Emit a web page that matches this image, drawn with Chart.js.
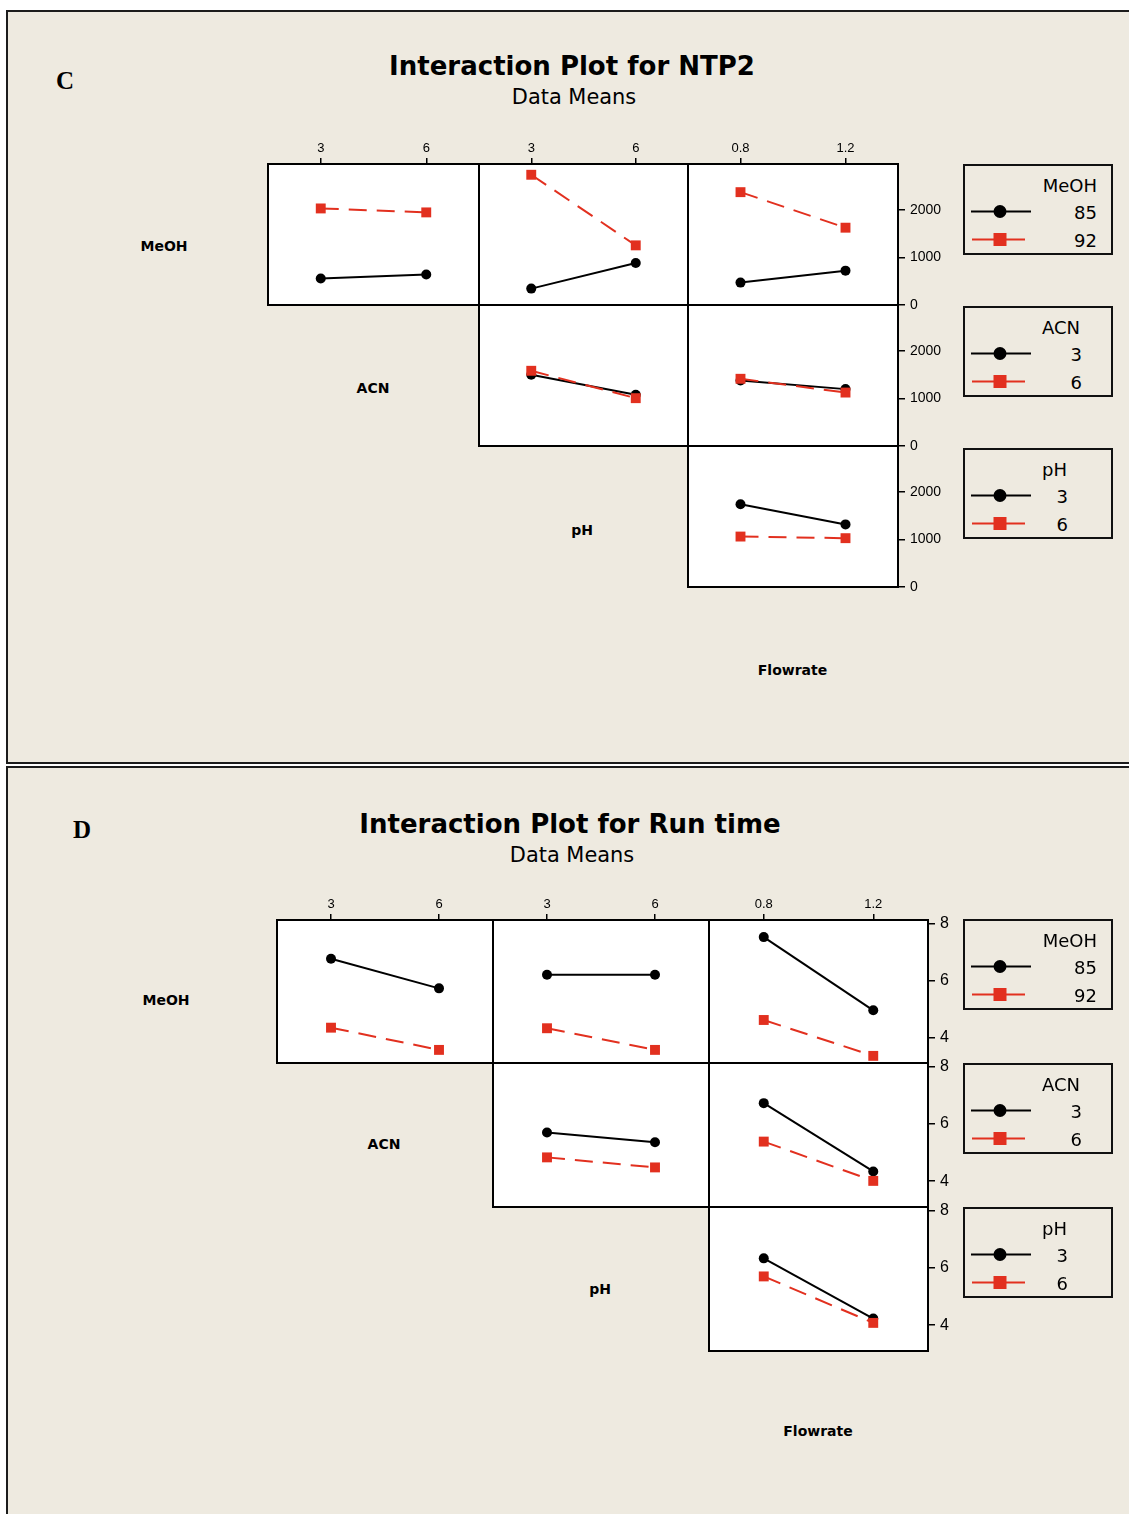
<!DOCTYPE html>
<html>
<head>
<meta charset="utf-8">
<script src="https://cdn.jsdelivr.net/npm/chart.js@4.4.1/dist/chart.umd.min.js"></script>
<style>
html,body{margin:0;padding:0;background:#fff;}
body{width:1129px;height:1514px;overflow:hidden;position:relative;}
.panel{position:absolute;left:6px;width:1140px;background:#EEEAE0;border:2px solid #1c1c1c;box-sizing:border-box;}
.t{position:absolute;white-space:nowrap;line-height:1;color:#000;}
.c{transform:translate(-50%,-50%);}
.r{transform:translate(-100%,-50%);}
.title{font-family:"DejaVu Sans";font-weight:bold;font-size:26px;}
.sub{font-family:"DejaVu Sans";font-size:22px;transform:translate(-50%,-50%) scaleX(0.95);}
.lab{font-family:"DejaVu Sans";font-weight:bold;font-size:14px;}
.letter{font-family:"Liberation Serif";font-weight:bold;font-size:25px;}
.lg{position:absolute;width:150px;height:91px;border:2px solid #111;box-sizing:border-box;}
.lgt{font-family:"DejaVu Sans";font-size:18px;}
canvas{position:absolute;}
</style>
</head>
<body>
<div class="panel" style="top:10px;height:754px;"></div>
<div class="panel" style="top:766px;height:800px;"></div>
<div id="root"></div>
<script>
// ---------- factor levels / ticks ----------
const meohLevels = [85, 92];
const acnLevels = [3, 6];
const phLevels = [3, 6];
const flowLevels = [0.8, 1.2];
const acnTickLabels = ['3', '6'];
const phTickLabels = ['3', '6'];
const flowTickLabels = ['0.8', '1.2'];
const ntp2YTicks = [0, 1000, 2000];
const ntp2YTickLabels = ['0', '1000', '2000'];
const runYTicks = [4, 6, 8];
const runYTickLabels = ['4', '6', '8'];

// ---------- NTP2 means (panel C) ----------
const ntp2MeOH85_acn = [556, 640];
const ntp2MeOH92_acn = [2027, 1944];
const ntp2MeOH85_ph = [344, 880];
const ntp2MeOH92_ph = [2734, 1252];
const ntp2MeOH85_flow = [470, 721];
const ntp2MeOH92_flow = [2369, 1623];
const ntp2ACN3_ph = [1495, 1074];
const ntp2ACN6_ph = [1579, 1004];
const ntp2ACN3_flow = [1375, 1194];
const ntp2ACN6_flow = [1411, 1122];
const ntp2PH3_flow = [1737, 1314];
const ntp2PH6_flow = [1059, 1025];

// ---------- Run time means (panel D) ----------
const runMeOH85_acn = [6.76, 5.72];
const runMeOH92_acn = [4.34, 3.56];
const runMeOH85_ph = [6.20, 6.20];
const runMeOH92_ph = [4.32, 3.56];
const runMeOH85_flow = [7.52, 4.95];
const runMeOH92_flow = [4.61, 3.35];
const runACN3_ph = [5.70, 5.36];
const runACN6_ph = [4.83, 4.48];
const runACN3_flow = [6.72, 4.34];
const runACN6_flow = [5.38, 4.01];
const runPH3_flow = [6.33, 4.23];
const runPH6_flow = [5.70, 4.08];

const RED = '#E2301F';
const root = document.getElementById('root');

function text(str, x, y, cls, align) {
  const d = document.createElement('div');
  d.className = 't ' + cls + ' ' + (align || 'c');
  d.style.left = x + 'px';
  d.style.top = y + 'px';
  d.textContent = str;
  root.appendChild(d);
  return d;
}

function legend(left, top, title, levels, titleRight, valRight) {
  const box = document.createElement('div');
  box.className = 'lg';
  box.style.left = left + 'px';
  box.style.top = top + 'px';
  root.appendChild(box);
  const ns = 'http://www.w3.org/2000/svg';
  const svg = document.createElementNS(ns, 'svg');
  svg.setAttribute('width', 150); svg.setAttribute('height', 91);
  svg.style.position = 'absolute'; svg.style.left = left + 'px'; svg.style.top = top + 'px';
  svg.innerHTML =
    '<line x1="8" y1="47.5" x2="68" y2="47.5" stroke="#000" stroke-width="2"/>' +
    '<circle cx="37" cy="47.5" r="6.5" fill="#000"/>' +
    '<line x1="9" y1="75.5" x2="62" y2="75.5" stroke="' + RED + '" stroke-width="2"/>' +
    '<rect x="30.5" y="69" width="13" height="13" fill="' + RED + '"/>';
  root.appendChild(svg);
  text(title, left + titleRight, top + 22, 'lgt', 'r');
  text(String(levels[0]), left + valRight, top + 48.5, 'lgt', 'r');
  text(String(levels[1]), left + valRight, top + 76.5, 'lgt', 'r');
}

// generous padding so Chart.js label padding never shifts the plot area
const PADL = 24, PADB = 24, TOPH = 30, RW = 52;

const cellBox = {
  id: 'cellBox',
  beforeDraw(c) {
    const a = c.chartArea, ctx = c.ctx;
    ctx.save();
    ctx.fillStyle = '#fff';
    ctx.fillRect(a.left, a.top, a.right - a.left, a.bottom - a.top);
    ctx.restore();
  },
  beforeDatasetsDraw(c) {
    const a = c.chartArea, ctx = c.ctx;
    ctx.save();
    ctx.strokeStyle = '#000';
    ctx.lineWidth = 2;
    ctx.strokeRect(a.left, a.top, a.right - a.left, a.bottom - a.top);
    ctx.restore();
  }
};

function cell(o) {
  const cv = document.createElement('canvas');
  const W = o.w + PADL + RW, H = o.h + TOPH + PADB;
  cv.width = W; cv.height = H;
  cv.style.width = W + 'px'; cv.style.height = H + 'px';
  cv.style.left = (o.x - PADL) + 'px';
  cv.style.top = (o.y - TOPH) + 'px';
  root.appendChild(cv);
  const pts = vals => o.xLevels.map((v, i) => ({ x: v, y: vals[i] }));
  new Chart(cv.getContext('2d'), {
    type: 'line',
    data: {
      datasets: [
        { data: pts(o.s1), order: 1, borderColor: '#000', borderWidth: 2,
          pointStyle: 'circle', pointRadius: 5, pointBackgroundColor: '#000',
          pointBorderColor: '#000', pointBorderWidth: 0, tension: 0, fill: false },
        { data: pts(o.s2), order: 0, borderColor: RED, borderWidth: 2, borderDash: [18, 10],
          pointStyle: 'rect', pointRadius: 7, pointBackgroundColor: RED,
          pointBorderColor: RED, pointBorderWidth: 0, tension: 0, fill: false }
      ]
    },
    options: {
      responsive: false, animation: false, events: [],
      layout: { padding: { left: PADL, right: 0, top: 0, bottom: PADB } },
      plugins: { legend: { display: false }, tooltip: { enabled: false } },
      scales: {
        x: {
          type: 'linear', position: 'top', min: o.xMin, max: o.xMax,
          afterBuildTicks: s => { s.ticks = o.xTicks.map(v => ({ value: v })); },
          afterFit: s => { s.height = TOPH; s.paddingLeft = 0; s.paddingRight = 0; },
          grid: { display: o.showX, drawOnChartArea: false, drawTicks: true, tickLength: 6, color: '#000', lineWidth: 1.5 },
          border: { display: false },
          ticks: { display: o.showX, padding: 2, color: '#000', maxRotation: 0, autoSkip: false,
                   font: { family: 'Liberation Sans', size: 13 },
                   callback: (v, i) => o.xLabels[i] }
        },
        y: {
          type: 'linear', position: 'right', min: o.yMin, max: o.yMax,
          afterBuildTicks: s => { s.ticks = o.yTicks.map(v => ({ value: v })); },
          afterFit: s => { s.width = RW; s.paddingTop = 0; s.paddingBottom = 0; },
          grid: { display: o.showY, drawOnChartArea: false, drawTicks: true, tickLength: 7, color: '#000', lineWidth: 1.5 },
          border: { display: false },
          ticks: { display: o.showY, padding: 5, color: '#000', autoSkip: false,
                   font: { family: 'Liberation Sans', size: o.yFont },
                   callback: (v, i) => o.yLabels[i] }
        }
      }
    },
    plugins: [cellBox]
  });
}

// ---------------- Panel C ----------------
text('C', 65, 80, 'letter');
text('Interaction Plot for NTP2', 572, 66, 'title');
text('Data Means', 574, 97, 'sub', ' ');
text('MeOH', 164, 245.5, 'lab');
text('ACN', 373, 387.5, 'lab');
text('pH', 582, 529.5, 'lab');
text('Flowrate', 792.5, 670, 'lab');

const cX = [268, 479, 688, 898];
const cY = [164, 305, 446, 587];
const xSpec = [
  { lv: acnLevels, min: 1.5, max: 7.5, lab: acnTickLabels },
  { lv: phLevels, min: 1.5, max: 7.5, lab: phTickLabels },
  { lv: flowLevels, min: 0.6, max: 1.4, lab: flowTickLabels }
];
const ntp2Series = [
  [[ntp2MeOH85_acn, ntp2MeOH92_acn], [ntp2MeOH85_ph, ntp2MeOH92_ph], [ntp2MeOH85_flow, ntp2MeOH92_flow]],
  [null, [ntp2ACN3_ph, ntp2ACN6_ph], [ntp2ACN3_flow, ntp2ACN6_flow]],
  [null, null, [ntp2PH3_flow, ntp2PH6_flow]]
];
const runSeries = [
  [[runMeOH85_acn, runMeOH92_acn], [runMeOH85_ph, runMeOH92_ph], [runMeOH85_flow, runMeOH92_flow]],
  [null, [runACN3_ph, runACN6_ph], [runACN3_flow, runACN6_flow]],
  [null, null, [runPH3_flow, runPH6_flow]]
];

function grid(X, Y, series, yMin, yMax, yTicks, yLabels, yFont) {
  for (let r = 0; r < 3; r++) {
    for (let c = r; c < 3; c++) {
      const sp = xSpec[c];
      cell({
        x: X[c], y: Y[r], w: X[c + 1] - X[c], h: Y[r + 1] - Y[r],
        xLevels: sp.lv, xMin: sp.min, xMax: sp.max, xTicks: sp.lv, xLabels: sp.lab,
        yMin: yMin, yMax: yMax, yTicks: yTicks, yLabels: yLabels, yFont: yFont,
        showX: r === 0, showY: c === 2,
        s1: series[r][c][0], s2: series[r][c][1]
      });
    }
  }
}
grid(cX, cY, ntp2Series, 0, 2960, ntp2YTicks, ntp2YTickLabels, 14);

legend(963, 164, 'MeOH', meohLevels, 134, 134);
legend(963, 306, 'ACN', acnLevels, 117, 119);
legend(963, 448, 'pH', phLevels, 104, 105);

// ---------------- Panel D ----------------
text('D', 82, 828.5, 'letter');
text('Interaction Plot for Run time', 570, 824, 'title');
text('Data Means', 572, 855, 'sub', ' ');
text('MeOH', 166, 1000, 'lab');
text('ACN', 384, 1144, 'lab');
text('pH', 600, 1288.5, 'lab');
text('Flowrate', 818, 1431, 'lab');

const dX = [277, 493, 709, 928];
const dY = [920, 1063, 1207, 1351];
grid(dX, dY, runSeries, 3.1, 8.12, runYTicks, runYTickLabels, 16);

legend(963, 919, 'MeOH', meohLevels, 134, 134);
legend(963, 1063, 'ACN', acnLevels, 117, 119);
legend(963, 1207, 'pH', phLevels, 104, 105);
</script>
</body>
</html>
